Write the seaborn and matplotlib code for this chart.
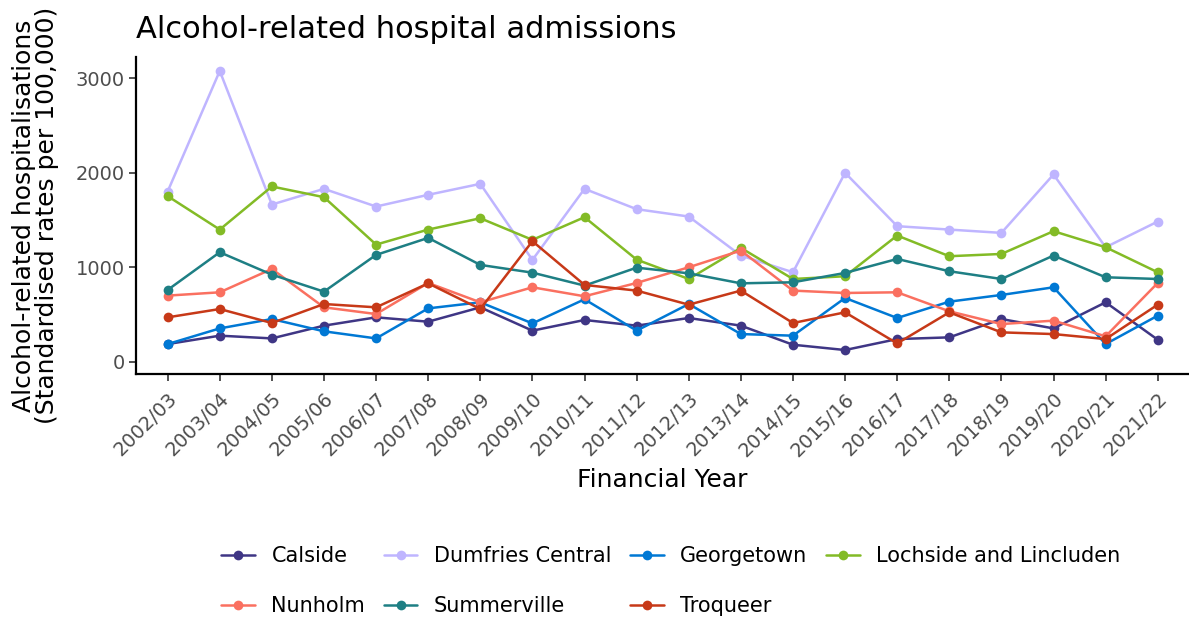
import numpy as np
import pandas as pd
import matplotlib
matplotlib.use("Agg")
import matplotlib.pyplot as plt
import seaborn as sns

# Data
years = ["2002/03", "2003/04", "2004/05", "2005/06", "2006/07", "2007/08",
         "2008/09", "2009/10", "2010/11", "2011/12", "2012/13", "2013/14",
         "2014/15", "2015/16", "2016/17", "2017/18", "2018/19", "2019/20",
         "2020/21", "2021/22"]

calside = [187, 276, 247, 382, 470, 424, 576, 329, 442, 382,
           463, 382, 180, 124, 240, 258, 452, 353, 629, 233]
dumfries_central = [1802, 3078, 1664, 1830, 1643, 1767, 1883, 1078, 1830, 1615,
                    1537, 1124, 947, 2000, 1435, 1399, 1364, 1982, 1212, 1484]
georgetown = [187, 353, 452, 322, 247, 565, 629, 406, 661, 329,
              611, 293, 276, 675, 463, 636, 707, 788, 187, 488]
lochside = [1753, 1399, 1855, 1742, 1240, 1399, 1519, 1290, 1530, 1081,
            876, 1205, 876, 905, 1336, 1117, 1141, 1382, 1212, 947]
nunholm = [700, 735, 982, 576, 505, 834, 629, 788, 693, 834,
           1000, 1177, 753, 728, 735, 534, 399, 435, 269, 834]
summerville = [760, 1159, 922, 742, 1131, 1311, 1025, 943, 806, 996,
               936, 830, 841, 940, 1088, 958, 876, 1124, 894, 876]
troqueer = [470, 558, 410, 611, 576, 830, 558, 1276, 813, 753,
            604, 753, 410, 523, 194, 523, 311, 293, 240, 604]

areas = ["Calside", "Dumfries Central", "Georgetown", "Lochside and Lincluden",
         "Nunholm", "Summerville", "Troqueer"]
series = [calside, dumfries_central, georgetown, lochside, nunholm, summerville, troqueer]
colors = ["#3F3685", "#BFB5FF", "#0078D4", "#83BB26", "#FA7060", "#1E7F84", "#C73918"]


def main():
    df = pd.DataFrame({
        "year": years * len(areas),
        "area": np.repeat(areas, len(years)),
        "rate": np.concatenate(series),
    })

    sns.set_style("white")
    plt.rcParams["font.family"] = ["DejaVu Sans"]
    plt.rcParams["text.color"] = "black"
    plt.rcParams["axes.labelcolor"] = "black"

    fig = plt.figure(figsize=(11.89, 6.24), dpi=100)
    ax = fig.add_axes([0.1147, 0.4006, 0.8853, 0.5081])

    sns.lineplot(data=df, x="year", y="rate", hue="area", hue_order=areas,
                 palette=colors, marker="o", markersize=7, markeredgewidth=0,
                 linewidth=1.8, sort=False, ax=ax)

    # Axes styling (ggplot classic-ish)
    sns.despine(ax=ax)
    for side in ["left", "bottom"]:
        ax.spines[side].set_linewidth(1.6)
        ax.spines[side].set_color("black")
    ax.set_xlim(-0.6, len(years) - 0.4)
    ax.set_ylim(-130, 3226)
    ax.set_yticks([0, 1000, 2000, 3000])
    ax.tick_params(axis="both", length=5, width=1.2, color="#333333",
                   labelsize=14, labelcolor="#4D4D4D", direction="out")
    ax.tick_params(axis="x", bottom=True, pad=6)
    ax.tick_params(axis="y", left=True)
    plt.setp(ax.get_xticklabels(), rotation=45, ha="right", va="top",
             rotation_mode="anchor")

    ax.set_xlabel("Financial Year", fontsize=18, labelpad=6)
    ax.set_ylabel("Alcohol-related hospitalisations\n(Standardised rates per 100,000)",
                  fontsize=18, labelpad=12, linespacing=0.95)
    ax.set_title("Alcohol-related hospital admissions", loc="left",
                 fontsize=22, pad=14, color="black")

    # Legend at the bottom, filled row by row like ggplot
    handles, labels = ax.get_legend_handles_labels()
    ax.get_legend().remove()
    lookup = dict(zip(labels, handles))
    order = ["Calside", "Nunholm", "Dumfries Central", "Summerville",
             "Georgetown", "Troqueer", "Lochside and Lincluden"]
    leg = fig.legend([lookup[k] for k in order], order, loc="center",
                     bbox_to_anchor=(671 / 1189, 1 - 581 / 624), ncol=4,
                     frameon=False, fontsize=15, handlelength=1.6,
                     handletextpad=0.8, columnspacing=0.9, labelspacing=1.45)
    for t in leg.get_texts():
        t.set_color("black")

    fig.savefig("out.png", dpi=100)


if __name__ == "__main__":
    main()
